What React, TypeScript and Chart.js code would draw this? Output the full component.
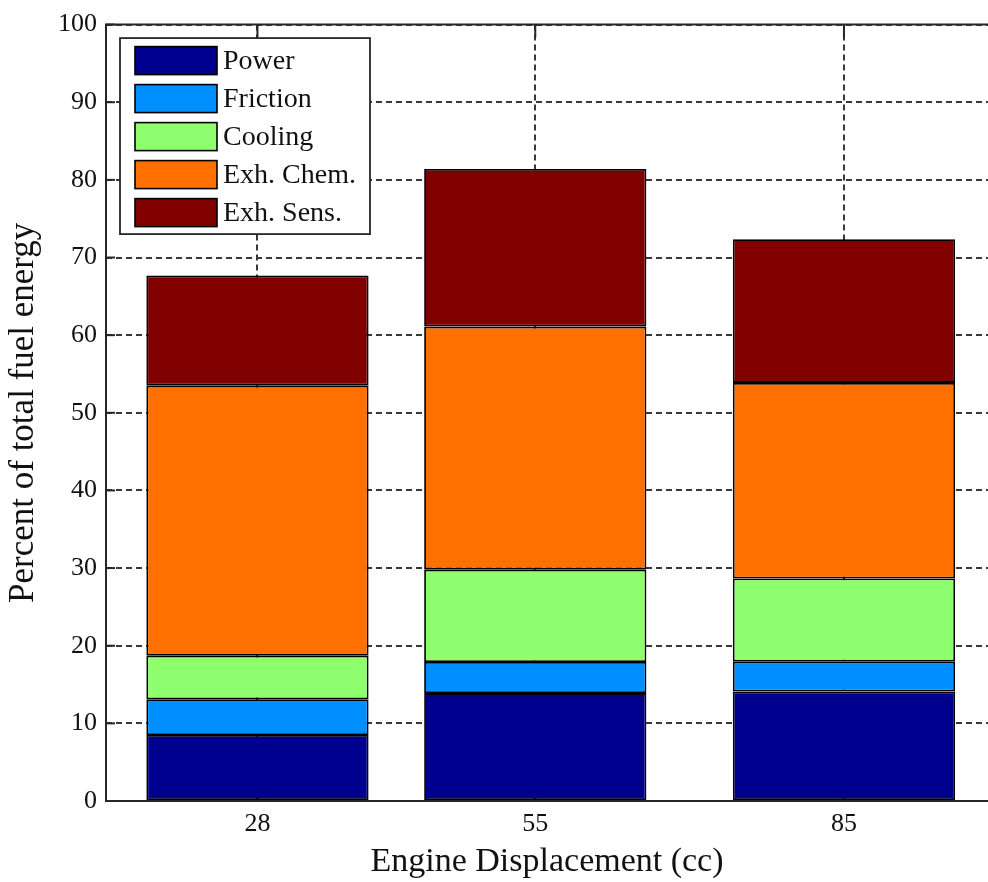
import React, { useEffect, useRef } from 'react';
import { Chart, registerables } from 'chart.js';

Chart.register(...registerables);

// ---- data ----
const displacements = [28, 55, 85];
const seriesNames = ['Power', 'Friction', 'Cooling', 'Exh. Chem.', 'Exh. Sens.'];
const power = [8.5, 13.9, 14.1];
const friction = [4.6, 4.0, 3.85];
const cooling = [5.6, 11.9, 10.7];
const exhChem = [34.8, 31.3, 25.2];
const exhSens = [14.2, 20.3, 18.5];
const yTickValues = [0, 10, 20, 30, 40, 50, 60, 70, 80, 90, 100];
const seriesColors = ['#00008F', '#008FFF', '#8FFF70', '#FF7000', '#800000'];
const xTitle = 'Engine Displacement (cc)';
const yTitle = 'Percent of total fuel energy';

const FONT = "'Liberation Serif', 'Times New Roman', serif";
const AXIS_COLOR = '#262626';

const axisPlugin = {
  id: 'matlabAxes',
  beforeDatasetsDraw(chart: any) {
    const { ctx, chartArea, scales } = chart;
    const { left, top, bottom } = chartArea;
    ctx.save();
    ctx.strokeStyle = AXIS_COLOR;
    ctx.lineWidth = 2;
    ctx.setLineDash([]);
    const tl = 9;
    scales.y.ticks.forEach((t: any) => {
      const y = scales.y.getPixelForValue(t.value);
      ctx.beginPath();
      ctx.moveTo(left, y);
      ctx.lineTo(left + tl, y);
      ctx.stroke();
    });
    scales.x.ticks.forEach((t: any) => {
      const x = scales.x.getPixelForValue(t.value);
      ctx.beginPath();
      ctx.moveTo(x, top);
      ctx.lineTo(x, top + tl + 4);
      ctx.moveTo(x, bottom);
      ctx.lineTo(x, bottom - tl - 4);
      ctx.stroke();
    });
    ctx.restore();
  },
  afterDatasetsDraw(chart: any) {
    const { ctx, chartArea } = chart;
    const { left, top, bottom, right } = chartArea;
    ctx.save();
    ctx.strokeStyle = AXIS_COLOR;
    ctx.lineWidth = 2;
    ctx.setLineDash([]);
    ctx.beginPath();
    ctx.moveTo(right, top);
    ctx.lineTo(left, top);
    ctx.lineTo(left, bottom);
    ctx.lineTo(right, bottom);
    ctx.stroke();

    // legend
    const bx = left + 14;
    const by = top + 13.5;
    const bw = 250;
    const rowH = 38;
    const bh = 196;
    ctx.fillStyle = '#ffffff';
    ctx.fillRect(bx, by, bw, bh);
    ctx.lineWidth = 1.8;
    ctx.strokeStyle = AXIS_COLOR;
    ctx.strokeRect(bx, by, bw, bh);
    chart.data.datasets.forEach((ds: any, i: number) => {
      const cy = by + 22.5 + i * rowH;
      ctx.fillStyle = ds.backgroundColor;
      ctx.fillRect(bx + 15, cy - 14, 82, 28);
      ctx.lineWidth = 1.6;
      ctx.strokeStyle = '#000';
      ctx.strokeRect(bx + 15, cy - 14, 82, 28);
      ctx.fillStyle = '#111';
      ctx.font = `28px ${FONT}`;
      ctx.textBaseline = 'middle';
      ctx.textAlign = 'left';
      ctx.fillText(ds.label, bx + 103, cy + 1);
    });
    ctx.restore();
  },
};

export default function App() {
  const canvasRef = useRef<HTMLCanvasElement | null>(null);

  useEffect(() => {
    const canvas = canvasRef.current;
    if (!canvas) return;
    const seriesValues = [power, friction, cooling, exhChem, exhSens];
    const chart = new Chart(canvas, {
      type: 'bar',
      data: {
        datasets: seriesValues.map((vals, i) => ({
          label: seriesNames[i],
          data: displacements.map((x, j) => ({ x, y: vals[j] })),
          backgroundColor: seriesColors[i],
          borderColor: '#000000',
          borderWidth: 1.8,
          borderSkipped: false,
          categoryPercentage: 1,
          barPercentage: 0.8,
        })),
      },
      options: {
        responsive: false,
        animation: false,
        events: [],
        layout: { padding: { top: 21, left: 0, right: 0, bottom: 0 } },
        plugins: {
          legend: { display: false },
          tooltip: { enabled: false },
        },
        scales: {
          x: {
            type: 'linear',
            stacked: true,
            offset: false,
            min: 13.28,
            max: 99.0,
            afterBuildTicks: (s: any) => {
              s.ticks = displacements.map((v) => ({ value: v }));
            },
            afterFit: (s: any) => {
              s.height = 81;
            },
            grid: { color: '#383838', lineWidth: 2, drawTicks: false, offset: false },
            border: { display: false, dash: [6, 4] },
            ticks: {
              color: '#111111',
              font: { family: FONT, size: 26 },
              padding: 8,
              maxRotation: 0,
              autoSkip: false,
              callback: (v: any) => String(v),
            },
            title: {
              display: true,
              text: xTitle,
              color: '#111111',
              font: { family: FONT, size: 34 },
              padding: { top: 0, bottom: 0 },
            },
          },
          y: {
            stacked: true,
            min: 0,
            max: 100,
            afterBuildTicks: (s: any) => {
              s.ticks = yTickValues.map((v) => ({ value: v }));
            },
            afterFit: (s: any) => {
              s.width = 106;
            },
            grid: { color: '#383838', lineWidth: 2, drawTicks: false },
            border: { display: false, dash: [6, 4] },
            ticks: {
              color: '#111111',
              font: { family: FONT, size: 26 },
              padding: 9,
              callback: (v: any) => String(v),
            },
            title: {
              display: true,
              text: yTitle,
              color: '#111111',
              font: { family: FONT, size: 35 },
              padding: { top: 3, bottom: 0 },
            },
          },
        },
      },
      plugins: [axisPlugin],
    } as any);
    return () => chart.destroy();
  }, []);

  return (
    <div style={{ position: 'absolute', left: 0, top: 0, width: 988, height: 882, background: '#fff' }}>
      <canvas ref={canvasRef} width={988} height={882} style={{ display: 'block', width: 988, height: 882 }} />
    </div>
  );
}
